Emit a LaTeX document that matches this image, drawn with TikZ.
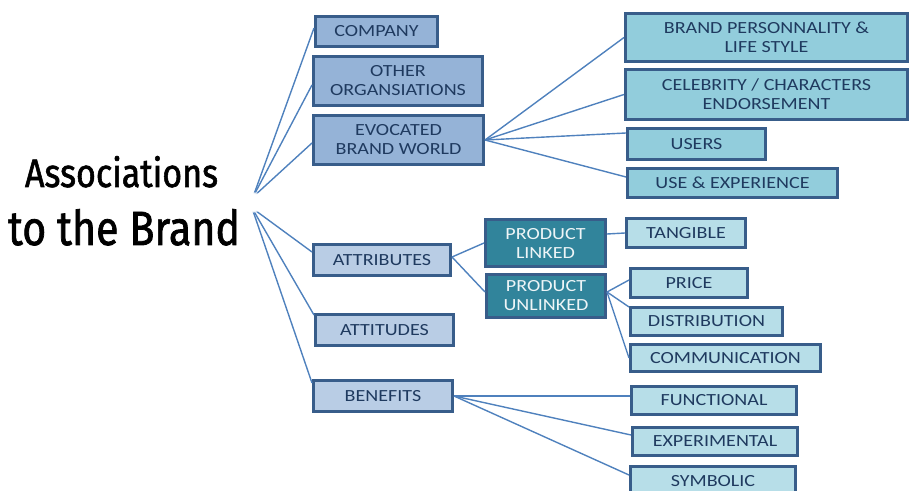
\documentclass[tikz,border=0pt]{standalone}
\usepackage{fontspec}
\usepackage{graphicx}
\usetikzlibrary{fadings}
\newfontfamily\boxfont[FakeStretch=1.18]{Carlito}
\newfontfamily\titlefont[FakeBold=1.6]{Fira Sans}
\definecolor{txt}{HTML}{1F3A5F}
\definecolor{bord}{HTML}{385D8A}
\definecolor{lvlA}{HTML}{95B3D7}
\definecolor{lvlB}{HTML}{B9CDE5}
\definecolor{rgtA}{HTML}{92CDDC}
\definecolor{rgtB}{HTML}{B7DEE8}
\definecolor{prod}{HTML}{31849B}
\definecolor{conn}{HTML}{4F81BD}
\tikzset{
  bx/.style={draw=bord, line width=3pt, inner sep=0pt, align=center,
    font=\boxfont\fontsize{17}{19}\selectfont, text=txt},
  upA/.style={bx, fill=lvlA},
  upB/.style={bx, fill=lvlB},
  rA/.style={bx, fill=rgtA},
  rB/.style={bx, fill=rgtB},
  pr/.style={bx, fill=prod, text=white!92!prod},
  wire/.style={draw=conn, line width=1.4pt},
}
\begin{document}
\begin{tikzpicture}[x=1pt,y=1pt]
\useasboundingbox (0,0) rectangle (909,490);
% title
\node[anchor=base, inner sep=0pt] (t1) at (121.5,303) {\titlefont\resizebox{193pt}{31pt}{Associations}};
\node[anchor=base, inner sep=0pt] (t2) at (124,245) {\titlefont\resizebox{232pt}{36pt}{to the Brand}};
\coordinate (o1) at (253,293);
\coordinate (o2) at (252,282);
% boxes
\node[upA, minimum width=122pt, minimum height=30pt] (company) at (376.5,458.5) {COMPANY};
\node[upA, minimum width=169pt, minimum height=49pt] (other) at (398,409) {OTHER\\ORGANSIATIONS};
\node[upA, minimum width=170pt, minimum height=49pt] (evoc) at (398.5,350) {EVOCATED\\BRAND WORLD};
\node[rA, minimum width=282pt, minimum height=48pt] (brandp) at (766.5,452.5) {BRAND PERSONNALITY \&\\LIFE STYLE};
\node[rA, minimum width=282pt, minimum height=50pt] (celeb) at (766.5,395.5) {CELEBRITY / CHARACTERS\\ENDORSEMENT};
\node[rA, minimum width=138pt, minimum height=31pt] (users) at (696.5,346) {USERS};
\node[rA, minimum width=210pt, minimum height=29pt] (useexp) at (732.5,307) {USE \& EXPERIENCE};
\node[upB, minimum width=137pt, minimum height=31pt] (attributes) at (382,230) {ATTRIBUTES};
\node[upB, minimum width=138pt, minimum height=31pt] (attitudes) at (384.5,160) {ATTITUDES};
\node[upB, minimum width=139pt, minimum height=31pt] (benefits) at (383,94) {BENEFITS};
\node[pr, minimum width=120pt, minimum height=47pt] (plinked) at (545.5,247) {PRODUCT\\LINKED};
\node[pr, minimum width=119pt, minimum height=43pt] (punlinked) at (546,194) {PRODUCT\\UNLINKED};
\node[rB, minimum width=119pt, minimum height=29pt] (tangible) at (686,257) {TANGIBLE};
\node[rB, minimum width=117pt, minimum height=29pt] (price) at (689,207) {PRICE};
\node[rB, minimum width=152pt, minimum height=28pt] (distribution) at (706.5,168.5) {DISTRIBUTION};
\node[rB, minimum width=190pt, minimum height=27pt] (communication) at (725.5,132) {COMMUNICATION};
\node[rB, minimum width=165pt, minimum height=28pt] (functional) at (714,89.5) {FUNCTIONAL};
\node[rB, minimum width=165pt, minimum height=28pt] (experimental) at (715,48.5) {EXPERIMENTAL};
\node[rB, minimum width=165pt, minimum height=29pt] (symbolic) at (713,9) {SYMBOLIC};
% connectors
\draw[wire] (o1) -- ([yshift=3.5pt]company.west);
\draw[wire] (o1) -- ([yshift=-4pt]other.west);
\draw[wire] (o1) -- ([yshift=-3pt]evoc.west);
\draw[wire] (o2) -- ([yshift=8pt]attributes.west);
\draw[wire] (o2) -- ([yshift=-2pt]attitudes.north west);
\draw[wire] (o2) -- ([yshift=-4pt]benefits.north west);
\draw[wire] (evoc.east) -- (brandp.west);
\draw[wire] (evoc.east) -- (celeb.west);
\draw[wire] (evoc.east) -- ([yshift=11pt]users.west);
\draw[wire] (evoc.east) -- ([yshift=6pt]useexp.west);
\draw[wire] ([yshift=3pt]attributes.east) -- (plinked.west);
\draw[wire] ([yshift=3pt]attributes.east) -- ([yshift=4pt]punlinked.west);
\draw[wire] ([yshift=9pt]plinked.east) -- (tangible.west);
\draw[wire] ([yshift=4pt]punlinked.east) -- ([yshift=3pt]price.west);
\draw[wire] ([yshift=4pt]punlinked.east) -- ([yshift=-1pt]distribution.north west);
\draw[wire] ([yshift=4pt]punlinked.east) -- (communication.west);
\draw[wire] (benefits.east) -- ([yshift=4.5pt]functional.west);
\draw[wire] (benefits.east) -- ([yshift=6.5pt]experimental.west);
\draw[wire] (benefits.east) -- ([yshift=6pt]symbolic.west);
% fade of the fan origin
\fill[white, path fading=circle with fuzzy edge 20 percent] (253,288) circle (11pt);
\end{tikzpicture}
\end{document}
